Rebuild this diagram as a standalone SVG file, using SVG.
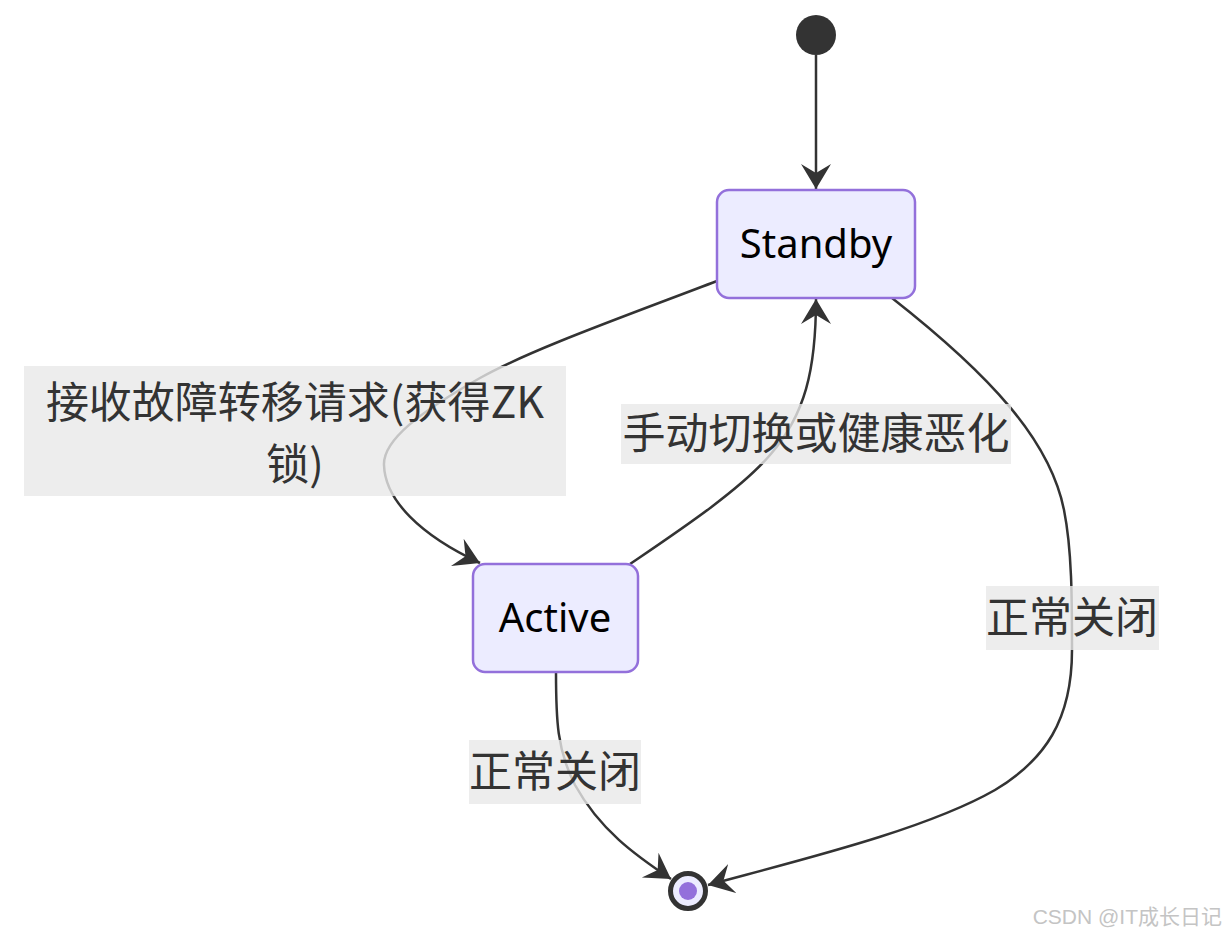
<svg xmlns="http://www.w3.org/2000/svg" width="1228" height="936" viewBox="0 0 1228 936">
<style>
.node rect{fill:#ECECFF;stroke:#9370DB;stroke-width:2.5}
.ntext{font-family:"Noto Sans","Noto Sans CJK SC",sans-serif;font-size:40px;fill:#000;text-anchor:middle}
.edge{fill:none;stroke:#333;stroke-width:2.5}
.lbox{fill:rgba(232,232,232,0.8)}
.ltext{font-family:"Noto Sans CJK SC","Noto Sans",sans-serif;font-size:43px;fill:#333;text-anchor:middle}
.wm{font-family:"Liberation Sans","Noto Sans CJK SC",sans-serif;font-size:21px;fill:#c4c4c4;text-anchor:end}
</style>
<defs>
<marker id="arrow" markerUnits="userSpaceOnUse" markerWidth="26" markerHeight="32" refX="25" refY="15" orient="auto" viewBox="0 0 26 30">
<path d="M0,0 L25,15 L0,30 L9,15 Z" fill="#333"/>
</marker>
</defs>
<rect width="1228" height="936" fill="#fff"/>
<g id="connectors">
<path class="edge" d="M816,55 L816,189" marker-end="url(#arrow)"/>
<path class="edge" d="M717,281 C620,318 530,350 480,378 C420,412 383,440 384,465 C385,500 420,535 480,563" marker-end="url(#arrow)"/>
<path class="edge" d="M630,564 C680,530 740,490 770,455 C805,415 816,370 816,299" marker-end="url(#arrow)"/>
<path class="edge" d="M892,298 C990,375 1050,440 1064,510 C1072,550 1072,600 1072,650 C1072,720 1045,760 995,790 C925,830 800,860 708,885" marker-end="url(#arrow)"/>
<path class="edge" d="M556,672 C556,720 557,750 575,785 C600,830 635,855 671,879" marker-end="url(#arrow)"/>
</g>
<g id="start">
<circle cx="816" cy="35" r="20" fill="#333"/>
</g>
<g id="Standby" class="node">
<rect x="717" y="190" width="198" height="108" rx="12"/>
<text class="ntext" x="816" y="258">Standby</text>
</g>
<g id="Active" class="node">
<rect x="473" y="564" width="165" height="108" rx="12"/>
<text class="ntext" x="555" y="632">Active</text>
</g>
<g id="end">
<circle cx="688" cy="891" r="17.5" fill="#ECECFF" stroke="#333" stroke-width="5"/>
<circle cx="688" cy="891" r="9" fill="#9370DB"/>
</g>
<g id="labels">
<g id="label-failover">
<rect class="lbox" x="24" y="366" width="542" height="130"/>
<text class="ltext" x="295" y="418">接收故障转移请求(获得ZK</text>
<text class="ltext" x="295" y="480">锁)</text>
</g>
<g id="label-manual">
<rect class="lbox" x="621" y="404" width="390" height="60"/>
<text class="ltext" x="816" y="449">手动切换或健康恶化</text>
</g>
<g id="label-close-standby">
<rect class="lbox" x="986" y="586" width="173" height="64"/>
<text class="ltext" x="1072" y="633">正常关闭</text>
</g>
<g id="label-close-active">
<rect class="lbox" x="469" y="740" width="172" height="64"/>
<text class="ltext" x="555" y="787">正常关闭</text>
</g>
</g>
<text class="wm" x="1222" y="924">CSDN @IT成长日记</text>
</svg>
